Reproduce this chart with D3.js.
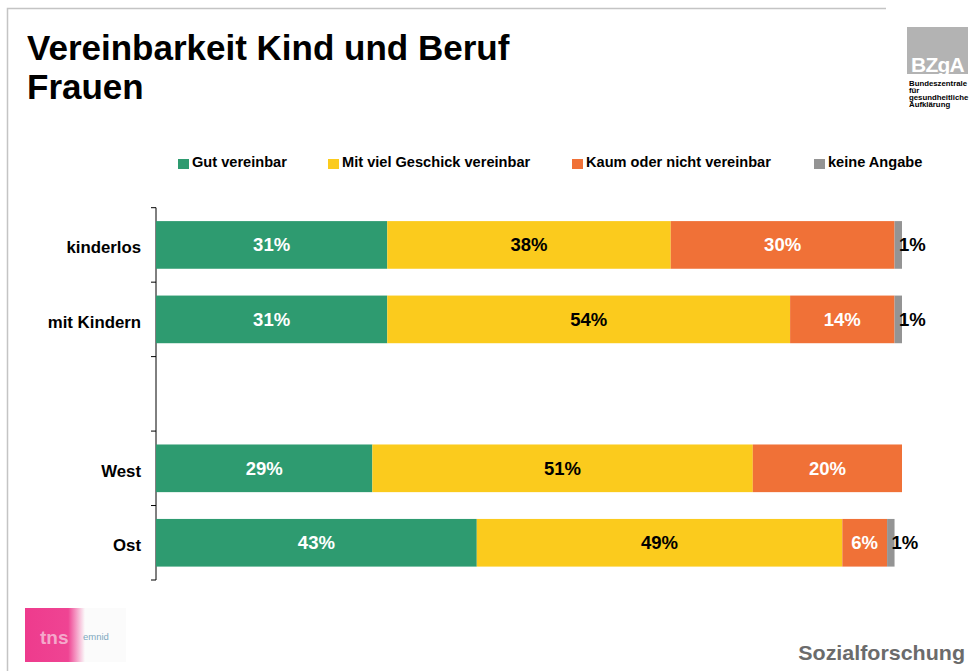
<!DOCTYPE html>
<html>
<head>
<meta charset="utf-8">
<script src="https://cdn.jsdelivr.net/npm/d3@7"></script>
<style>
  body { margin: 0; background: #fff; }
  svg { display: block; font-family: "Liberation Sans", Arial, sans-serif; }
</style>
</head>
<body>
<div id="chart"></div>
<script>
'use strict';

// data
const categories = ['kinderlos', 'mit Kindern', 'West', 'Ost'];
const gutVereinbar = [31, 31, 29, 43];
const mitGeschick = [38, 54, 51, 49];
const kaumNicht = [30, 14, 20, 6];
const keineAngabe = [1, 1, 0, 1];
const seriesNames = ['Gut vereinbar', 'Mit viel Geschick vereinbar', 'Kaum oder nicht vereinbar', 'keine Angabe'];

(function() {
    const width = 970, height = 671;
    const colors = ['#2e9b70', '#fbcb1d', '#f07137', '#949494'];
    const labelColors = ['#fff', '#000', '#fff', '#000'];

    const svg = d3.select('#chart').append('svg')
        .attr('width', width)
        .attr('height', height);

    // slide frame
    svg.append('path')
        .attr('d', 'M7.5,672 L7.5,8.5 L886,8.5')
        .attr('fill', 'none')
        .attr('stroke', '#c4c4c4')
        .attr('stroke-width', 1.5);

    // title
    svg.append('text')
        .attr('x', 27).attr('y', 60)
        .attr('font-size', 35).attr('font-weight', 'bold')
        .text('Vereinbarkeit Kind und Beruf');
    svg.append('text')
        .attr('x', 27).attr('y', 99)
        .attr('font-size', 35).attr('font-weight', 'bold')
        .text('Frauen');

    // BZgA logo
    const logo = svg.append('g');
    logo.append('rect')
        .attr('x', 907).attr('y', 27).attr('width', 61).attr('height', 47)
        .attr('fill', '#b3b3b3');
    logo.append('text')
        .attr('x', 937.5).attr('y', 72)
        .attr('text-anchor', 'middle')
        .attr('fill', '#fff').attr('font-size', 21).attr('font-weight', 900)
        .attr('letter-spacing', -0.8)
        .text('BZgA');
    ['Bundeszentrale', 'für', 'gesundheitliche', 'Aufklärung'].forEach((t, i) => {
        logo.append('text')
            .attr('x', 909).attr('y', 85.5 + i * 7.3)
            .attr('font-size', 7.8).attr('font-weight', 'bold')
            .text(t);
    });

    // tns emnid logo (rough)
    const defs = svg.append('defs');
    const grad = defs.append('linearGradient').attr('id', 'pink')
        .attr('x1', 0).attr('x2', 1).attr('y1', 0).attr('y2', 0);
    grad.append('stop').attr('offset', '0%').attr('stop-color', '#ee3b8d');
    grad.append('stop').attr('offset', '72%').attr('stop-color', '#ef4493');
    grad.append('stop').attr('offset', '100%').attr('stop-color', '#fbfbfb');
    svg.append('rect')
        .attr('x', 25).attr('y', 608).attr('width', 101).attr('height', 54)
        .attr('fill', '#fbfbfb');
    svg.append('rect')
        .attr('x', 25).attr('y', 608).attr('width', 60).attr('height', 54)
        .attr('fill', 'url(#pink)');
    svg.append('text')
        .attr('x', 40).attr('y', 644)
        .attr('font-size', 19).attr('font-weight', 'bold')
        .attr('fill', '#f4a9cb')
        .text('tns');
    svg.append('text')
        .attr('x', 83).attr('y', 640)
        .attr('font-size', 9.5)
        .attr('fill', '#7fa8bf')
        .text('emnid');

    // legend
    const legendX = [178, 328, 572, 814];
    const legend = svg.selectAll('.legend')
        .data(seriesNames)
        .enter().append('g')
        .attr('class', 'legend')
        .attr('transform', (d, i) => 'translate(' + legendX[i] + ',159)');
    legend.append('rect')
        .attr('width', 11).attr('height', 10)
        .attr('fill', (d, i) => colors[i]);
    legend.append('text')
        .attr('x', 14).attr('y', 8)
        .attr('font-size', 14.6).attr('font-weight', 'bold')
        .text(d => d);

    // scales
    const slots = ['kinderlos', 'mit Kindern', '_gap', 'West', 'Ost'];
    const y = d3.scaleBand()
        .domain(slots)
        .range([207.7, 580])
        .paddingInner(0.36)
        .paddingOuter(0.18);
    const x = d3.scaleLinear().domain([0, 100]).range([156, 902]);

    // axis with ticks between slots
    const axis = svg.append('g');
    axis.append('line')
        .attr('x1', 156).attr('x2', 156)
        .attr('y1', 207.7).attr('y2', 580)
        .attr('stroke', '#000');
    const tickYs = d3.range(slots.length + 1).map(i => 207.7 + i * y.step());
    axis.selectAll('.tick')
        .data(tickYs)
        .enter().append('line')
        .attr('x1', 151).attr('x2', 156)
        .attr('y1', d => d).attr('y2', d => d)
        .attr('stroke', '#000');

    // stacked data
    const rows = categories.map((c, i) => {
        const vals = [gutVereinbar[i], mitGeschick[i], kaumNicht[i], keineAngabe[i]];
        let acc = 0;
        return {
            cat: c,
            segs: vals.map((v, k) => {
                const s = { k: k, v: v, x0: acc, x1: acc + v };
                acc += v;
                return s;
            })
        };
    });

    const rowG = svg.selectAll('.row')
        .data(rows)
        .enter().append('g')
        .attr('class', 'row')
        .attr('transform', d => 'translate(0,' + y(d.cat) + ')');

    rowG.append('text')
        .attr('x', 141)
        .attr('y', y.bandwidth() / 2 + 8.5)
        .attr('text-anchor', 'end')
        .attr('font-size', 16.8).attr('font-weight', 'bold')
        .text(d => d.cat);

    rowG.selectAll('rect')
        .data(d => d.segs.filter(s => s.v > 0))
        .enter().append('rect')
        .attr('x', d => x(d.x0))
        .attr('width', d => x(d.x1) - x(d.x0))
        .attr('y', 0)
        .attr('height', y.bandwidth())
        .attr('fill', d => colors[d.k]);

    rowG.selectAll('.val')
        .data(d => d.segs.filter(s => s.v > 0))
        .enter().append('text')
        .attr('class', 'val')
        .attr('x', d => d.k === 3 ? x(d.x1) - 3 : (x(d.x0) + x(d.x1)) / 2)
        .attr('y', y.bandwidth() / 2 + 6.5)
        .attr('text-anchor', d => d.k === 3 ? 'start' : 'middle')
        .attr('font-size', 18.5).attr('font-weight', 'bold')
        .attr('fill', d => labelColors[d.k])
        .text(d => d.v + '%');

    // footer
    svg.append('text')
        .attr('transform', 'translate(965,660) scale(1.1,1)')
        .attr('text-anchor', 'end')
        .attr('font-size', 19.5).attr('font-weight', 'bold')
        .attr('fill', '#6b6b6b')
        .text('Sozialforschung');
})();
</script>
</body>
</html>
